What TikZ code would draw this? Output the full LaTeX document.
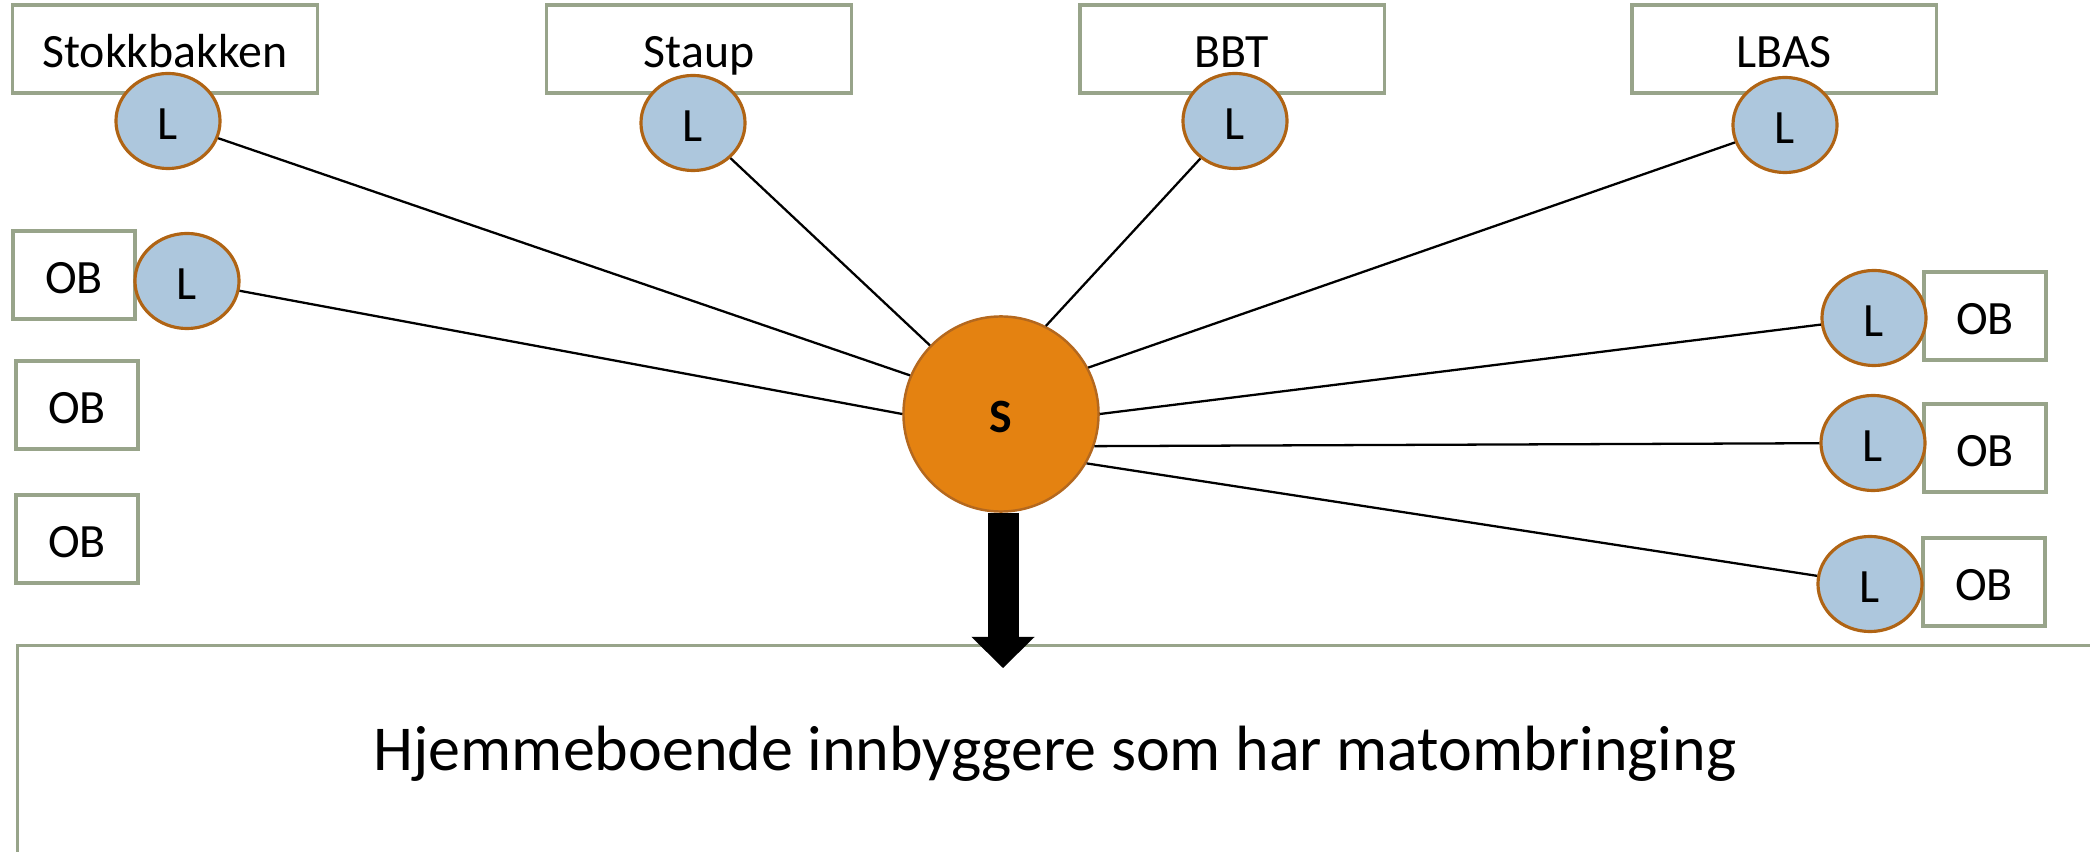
\documentclass[tikz,border=0pt]{standalone}
\usepackage{fontspec}
\setmainfont{Carlito}
\usetikzlibrary{shapes.geometric, arrows.meta}
\definecolor{BoxGray}{RGB}{152,164,138}
\definecolor{LBlue}{RGB}{173,199,221}
\definecolor{LBrown}{RGB}{176,100,20}
\definecolor{SOrange}{RGB}{228,130,17}
\definecolor{SBrown}{RGB}{180,104,30}

\begin{document}
\begin{tikzpicture}[x=0.01cm, y=-0.01cm]

    \useasboundingbox (0,0) rectangle (2090,852);

    % Text size
    \fontsize{13.6}{16}\selectfont

    % Boxes
    \tikzset{nB/.style={draw = BoxGray, line width = 0.9pt, minimum width = 3.04cm, minimum height = 0.88cm, inner sep = 0pt, text height = 10.4pt, text depth = 0pt}}
    \tikzset{nO/.style={nB, minimum width = 1.22cm}}

    % Places
    \tikzset{nL/.style={draw = LBrown, fill = LBlue, line width = 0.9pt, shape = ellipse, inner sep = 0pt, minimum width = 1.04cm, minimum height = 0.95cm, text height = 10.4pt, text depth = 0pt}}
    \tikzset{nS/.style={draw = SBrown, fill = SOrange, line width = 0.7pt, shape = circle, inner sep = 0pt, minimum size = 1.95cm, font = \bfseries, text height = 10.4pt, text depth = 0pt}}

    % Connectors
    \tikzset{pL/.style={draw = black, line width = 0.65pt}}
    \tikzset{pA/.style={draw = black, line width = 0.31cm, -{Triangle[width = 0.63cm, length = 0.31cm, line width = 0pt]}}}

    % Top boxes
    \node (stokk) [nB] at (165,49) {Stokkbakken};
    \node (staup) [nB] at (699,49) {Staup};
    \node (bbt) [nB] at (1232,49) {BBT};
    \node (lbas) [nB] at (1784,49) {LBAS};
    	\node (lstokk) [nL] at (168,121) {L};
    	\node (lstaup) [nL] at (693,123) {L};
    	\node (lbbt) [nL] at (1235,121) {L};
    	\node (llbas) [nL] at (1785,125) {L};

    % Left column
    \node (obw1) [nO] at (74,275) {OB};
    	\node (lw1) [nL] at (187,281) {L};
    \node (obw2) [nO] at (77,405) {OB};
    \node (obw3) [nO] at (77,539) {OB};

    % Right column
    \node (obe1) [nO] at (1985,316) {OB};
    	\node (le1) [nL] at (1874,318) {L};
    \node (obe2) [nO] at (1985,448) {OB};
    	\node (le2) [nL] at (1873,443) {L};
    \node (obe3) [nO] at (1984,582) {OB};
    	\node (le3) [nL] at (1870,584) {L};

    % Centre
    \node (s) [nS] at (1001,414) {S};

    % Lines to the centre
    \path[pL] (lstokk) -- (s.157);
    \path[pL] (lstaup) -- (s.136);
    \path[pL] (lbbt) -- (s.63);
    \path[pL] (llbas) -- (s.28);
    \path[pL] (lw1) -- (s.west);
    \path[pL] (le1) -- (s.east);
    \path[pL] (le2) -- (s.-19);
    \path[pL] (le3) -- (s.-30);

    % Receivers
    \node (home) [nB, anchor = north west, minimum width = 20.73cm, minimum height = 3cm] at (16,644) {};
    \node (txt) [anchor = base, font = \fontsize{18.2}{22}\selectfont] at (1055,771) {Hjemmeboende innbyggere som har matombringing};

    % Arrow
    \coordinate (tip) at (1003,668);
    \path[pA] (s.south -| tip) -- (tip);

\end{tikzpicture}
\end{document}
